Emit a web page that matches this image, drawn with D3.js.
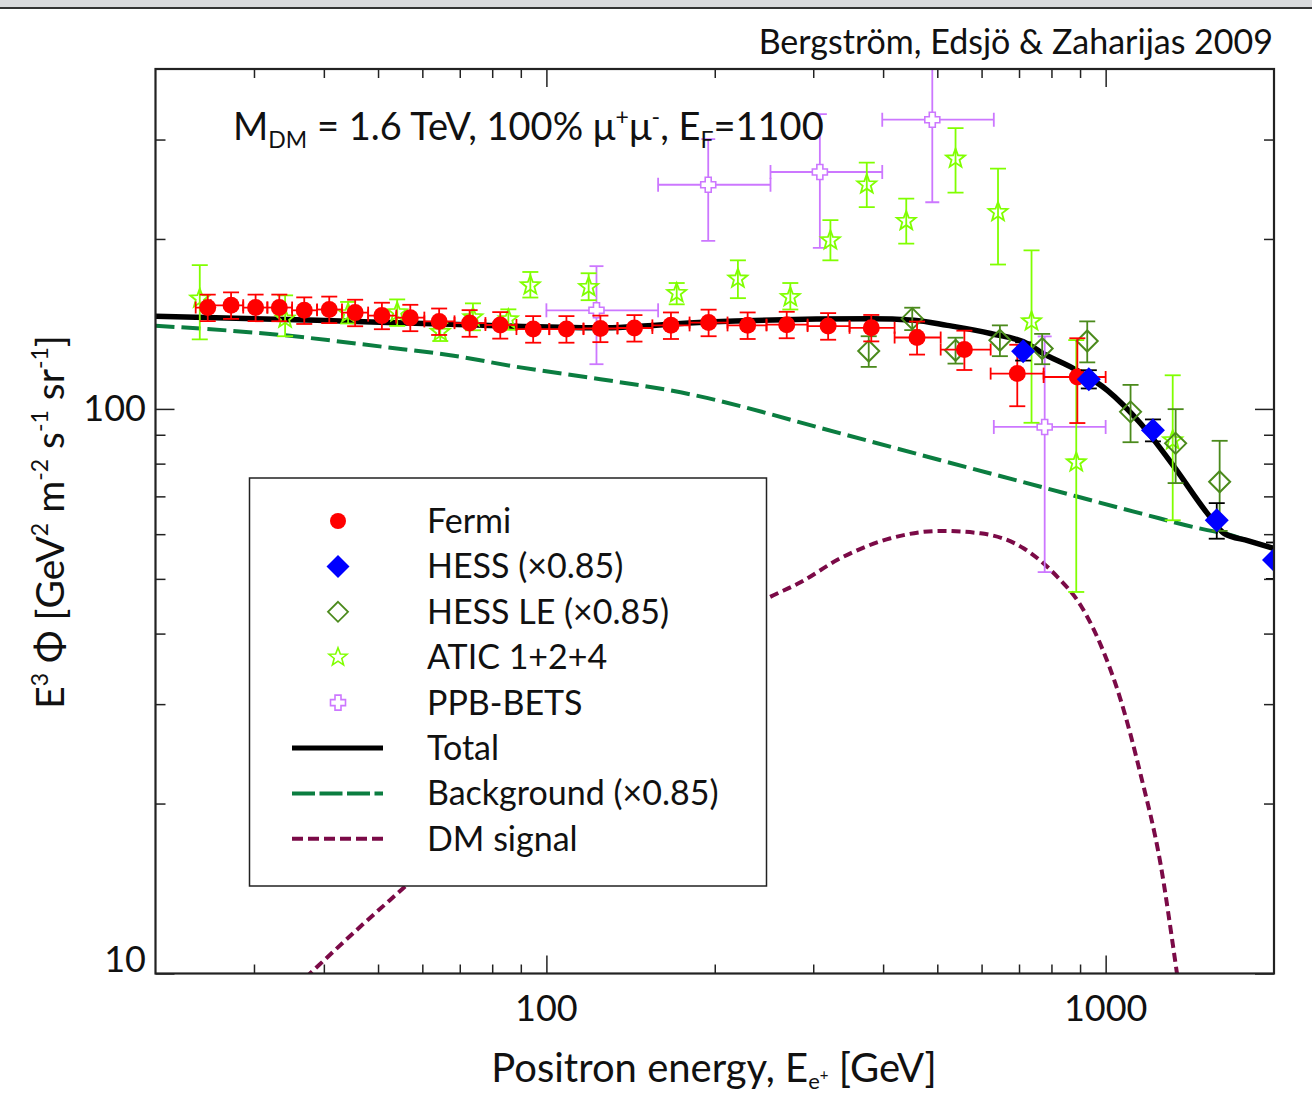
<!DOCTYPE html>
<html>
<head>
<meta charset="utf-8">
<script src="https://cdn.jsdelivr.net/npm/d3@7"></script>
<style>
  body { margin: 0; background: #fff; }
  svg text { font-family: Lato, "Open Sans", sans-serif; fill: #111; }
</style>
</head>
<body>
<div id="chart"></div>
<script>
// ---- data ----
const fermiE = [24.8, 27.3, 30.2, 33.3, 36.9, 40.9, 45.5, 50.8, 57.1, 64.3, 72.9, 82.7, 94.7, 108.6, 124.9, 143.7, 167, 195, 229, 269, 319, 381, 460, 559, 695, 890];
const fermiV = [151.2, 152.6, 151.2, 151.2, 149.5, 150, 148.1, 146.3, 145.1, 142.9, 141.9, 140.8, 138.5, 138.5, 138.8, 139.1, 140.6, 142.2, 140.6, 141, 140.2, 139.2, 133.8, 127.4, 115.5, 113.9];
const fermiErr = [8.2, 8.2, 8.2, 8.2, 8.1, 8.1, 8.0, 7.9, 7.8, 7.7, 7.7, 7.6, 7.5, 7.5, 7.5, 7.5, 7.6, 7.7, 7.6, 7.6, 7.6, 7.5, 9.0, 10.2, 14.4, 19.5];
const fermiEdges = [23.6, 25.1, 28.7, 31.7, 35.1, 38.9, 43.1, 48.0, 53.9, 60.5, 68.5, 77.8, 88.4, 101.2, 116.5, 134.0, 154.7, 180.3, 210.8, 247.5, 293.1, 348.4, 419.4, 507, 622.8, 774.6, 1000];

const hessE = [712, 933, 1215, 1580, 2000];
const hessV = [126.5, 112.9, 91.7, 63.5, 54.0];
const hessErr = [4.7, 4.2, 4.1, 4.6, 4.0];

const hessLeE = [377, 451, 539, 647, 770, 927, 1108, 1334, 1599];
const hessLeV = [126.6, 144.5, 127.0, 132.3, 127.9, 131.9, 98.8, 86.9, 74.3];
const hessLeErr = [7.9, 6.6, 6.7, 8.3, 7.9, 11, 11.5, 13, 13.5];

const aticE = [24.0, 34.1, 44.2, 54.1, 64.6, 73.9, 85.5, 93.6, 119, 171, 220, 273, 322, 374, 440, 539, 642, 737, 886, 1318];
const aticV = [156.8, 144.5, 147.7, 148.3, 136.9, 145.3, 144.1, 165.5, 164.4, 160.4, 170.1, 157.8, 198.9, 249.8, 215.2, 277.5, 223.2, 142.9, 80.4, 88.0];
const aticErrMinus = [24, 10, 6, 8, 5, 7.5, 6, 8, 8.6, 7.2, 13, 7.8, 15.6, 22, 19, 36, 43, 48.4, 33, 24.5];
const aticErrPlus = [23, 14.4, 7, 8, 5, 8.5, 6, 9.3, 9.5, 6.7, 13.2, 9.3, 17, 23.2, 20.5, 36.8, 43.2, 48, 52, 26.7];

const ppbE = [122.9, 194.7, 308.3, 489.8, 778];
const ppbV = [149.5, 249.5, 262.8, 325.3, 92.9];
const ppbErr = [29.5, 51, 70, 93, 41.5];
const ppbLo = [100, 158.4, 251.6, 398.6, 631];
const ppbHi = [158.4, 251.6, 398.6, 631, 1000];

const totalE = [20, 38.9, 67.3, 124.9, 193.9, 379.8, 454.1, 521, 622.6, 724.4, 765.2, 876.5, 1007, 1155, 1325, 1520, 1628, 1800, 2000];
const totalV = [145.9, 143.6, 141.2, 139.2, 142.6, 144.4, 143.6, 140.6, 136.0, 130.5, 126.1, 117.9, 107.9, 94.2, 79.0, 65.3, 60.2, 58.4, 56.6];

const bgE = [20, 33.8, 51.1, 67.3, 88.6, 124.9, 173.7, 335.7, 506.9, 765.2, 1155, 1520, 1628, 1800, 2000];
const bgV = [140.4, 135.1, 128.8, 124.5, 118.7, 112.9, 107.0, 90.5, 81.1, 72.8, 65.3, 61.0, 60.2, 58.4, 56.6];

const dmE = [37.1, 46.5, 57.1, 82.7, 135.6, 248.5, 284.7, 335.7, 412.5, 506.9, 597.4, 714.3, 819.8, 902, 979.7, 1064, 1155, 1254, 1340, 1362];
const dmV = [9.83, 12.11, 14.53, 20.3, 30.5, 46.2, 49.3, 54.4, 59.0, 60.8, 60.2, 56.6, 50.4, 44.9, 38.2, 30.5, 22.5, 15.6, 10.07, 9.0];

const xMajor = [100, 1000];
const xMinor = [30, 40, 50, 60, 70, 80, 90, 200, 300, 400, 500, 600, 700, 800, 900];
const yMajor = [10, 100];
const yMinor = [20, 30, 40, 50, 60, 70, 80, 90, 200, 300];

const legendItems = ["Fermi", "HESS (×0.85)", "HESS LE (×0.85)", "ATIC 1+2+4", "PPB-BETS", "Total", "Background (×0.85)", "DM signal"];

// ---- setup ----
const W = 1312, H = 1106;
const svg = d3.select("#chart").append("svg").attr("width", W).attr("height", H);

// strip at very top of the screenshot
svg.append("rect").attr("x", 0).attr("y", 0).attr("width", W).attr("height", 7).attr("fill", "#d9dadc");
svg.append("line").attr("x1", 0).attr("x2", W).attr("y1", 8).attr("y2", 8).attr("stroke", "#333").attr("stroke-width", 2);

const x = d3.scaleLog().domain([20, 2000]).range([155.5, 1274]);
const y = d3.scaleLog().domain([10, 400]).range([973.5, 69]);
const [x0, x1] = x.range(), [y0, y1] = y.range();

svg.append("clipPath").attr("id", "plot").append("rect")
  .attr("x", x0).attr("y", y1).attr("width", x1 - x0).attr("height", y0 - y1);

const RED = "#ff0000", BLUE = "#0000ff", OLIVE = "#4b8a1c", LIME = "#80ff00", VIOLET = "#cc77ff";
const BGC = "#0b7d40", DMC = "#7b0a47";

const g = svg.append("g").attr("clip-path", "url(#plot)");

// ---- curves ----
const line = d3.line().x(d => x(d[0])).y(d => y(d[1])).curve(d3.curveMonotoneX);
g.append("path").datum(dmE.map((e, i) => [e, dmV[i]]))
  .attr("d", line).attr("fill", "none").attr("stroke", DMC).attr("stroke-width", 4).attr("stroke-dasharray", "9,5");
g.append("path").datum(bgE.map((e, i) => [e, bgV[i]]))
  .attr("d", line).attr("fill", "none").attr("stroke", BGC).attr("stroke-width", 4).attr("stroke-dasharray", "19,7");
g.append("path").datum(totalE.map((e, i) => [e, totalV[i]]))
  .attr("d", line).attr("fill", "none").attr("stroke", "#000").attr("stroke-width", 5.5);

// ---- helpers ----
function vErr(sel, xs, lo, hi, color, cap) {
  xs.forEach((e, i) => {
    const px = x(e), a = y(lo[i]), b = y(hi[i]);
    sel.append("line").attr("x1", px).attr("x2", px).attr("y1", a).attr("y2", b);
    sel.append("line").attr("x1", px - cap).attr("x2", px + cap).attr("y1", a).attr("y2", a);
    sel.append("line").attr("x1", px - cap).attr("x2", px + cap).attr("y1", b).attr("y2", b);
  });
  sel.attr("stroke", color).attr("stroke-width", 1.8);
}
function hErr(sel, vs, lo, hi, color, cap) {
  vs.forEach((v, i) => {
    const py = y(v), a = x(lo[i]), b = x(hi[i]);
    sel.append("line").attr("x1", a).attr("x2", b).attr("y1", py).attr("y2", py);
    sel.append("line").attr("x1", a).attr("x2", a).attr("y1", py - cap).attr("y2", py + cap);
    sel.append("line").attr("x1", b).attr("x2", b).attr("y1", py - cap).attr("y2", py + cap);
  });
  sel.attr("stroke", color).attr("stroke-width", 1.8);
}
const diamond = r => `M0,${-r}L${r},0L0,${r}L${-r},0Z`;
const cross = (a, b) => `M${-a},${-b}L${a},${-b}L${a},${-a}L${b},${-a}L${b},${a}L${a},${a}L${a},${b}L${-a},${b}L${-a},${a}L${-b},${a}L${-b},${-a}L${-a},${-a}Z`;
function star(R, r) {
  let p = "";
  for (let k = 0; k < 10; k++) {
    const ang = -Math.PI / 2 + k * Math.PI / 5, rad = k % 2 ? r : R;
    p += (k ? "L" : "M") + (rad * Math.cos(ang)).toFixed(2) + "," + (rad * Math.sin(ang)).toFixed(2);
  }
  return p + "Z";
}

// ---- PPB-BETS ----
const ppbG = g.append("g");
vErr(ppbG.append("g"), ppbE, ppbV.map((v, i) => v - ppbErr[i]), ppbV.map((v, i) => v + ppbErr[i]), VIOLET, 7);
hErr(ppbG.append("g"), ppbV, ppbLo, ppbHi, VIOLET, 7);
ppbG.selectAll("path").data(ppbE).join("path")
  .attr("transform", (e, i) => `translate(${x(e)},${y(ppbV[i])})`)
  .attr("d", cross(3, 7.5)).attr("fill", "#fff").attr("stroke", VIOLET).attr("stroke-width", 1.6);

// ---- ATIC ----
const aticG = g.append("g");
vErr(aticG.append("g"), aticE, aticV.map((v, i) => v - aticErrMinus[i]), aticV.map((v, i) => v + aticErrPlus[i]), LIME, 8);
aticG.selectAll("path").data(aticE).join("path")
  .attr("transform", (e, i) => `translate(${x(e)},${y(aticV[i])})`)
  .attr("d", star(10, 4.2)).attr("fill", "none").attr("stroke", LIME).attr("stroke-width", 1.8);

// ---- HESS LE ----
const leG = g.append("g");
vErr(leG.append("g"), hessLeE, hessLeV.map((v, i) => v - hessLeErr[i]), hessLeV.map((v, i) => v + hessLeErr[i]), OLIVE, 8);
leG.selectAll("path").data(hessLeE).join("path")
  .attr("transform", (e, i) => `translate(${x(e)},${y(hessLeV[i])})`)
  .attr("d", diamond(10.5)).attr("fill", "none").attr("stroke", OLIVE).attr("stroke-width", 2);

// ---- Fermi ----
const fG = g.append("g");
vErr(fG.append("g"), fermiE, fermiV.map((v, i) => v - fermiErr[i]), fermiV.map((v, i) => v + fermiErr[i]), RED, 8);
hErr(fG.append("g"), fermiV, fermiEdges.slice(0, -1), fermiEdges.slice(1), RED, 6);
fG.selectAll("circle").data(fermiE).join("circle")
  .attr("cx", e => x(e)).attr("cy", (e, i) => y(fermiV[i])).attr("r", 8.5).attr("fill", RED);

// ---- HESS ----
const hG = g.append("g");
vErr(hG.append("g"), hessE, hessV.map((v, i) => v - hessErr[i]), hessV.map((v, i) => v + hessErr[i]), "#000", 8);
hG.selectAll("path").data(hessE).join("path")
  .attr("transform", (e, i) => `translate(${x(e)},${y(hessV[i])})`)
  .attr("d", diamond(12)).attr("fill", BLUE);

// ---- axes (ticks inward on all four sides) ----
function ax(axisFn, scale, vals, size, tr) {
  const a = svg.append("g").attr("transform", tr)
    .call(axisFn(scale).tickValues(vals).tickSize(size).tickFormat(""));
  a.select(".domain").remove();
  a.selectAll("line").attr("stroke", "#222").attr("stroke-width", 1.5);
  return a;
}
ax(d3.axisBottom, x, xMinor, -9, `translate(0,${y0})`);
ax(d3.axisBottom, x, xMajor, -18, `translate(0,${y0})`);
ax(d3.axisTop, x, xMinor, -9, `translate(0,${y1})`);
ax(d3.axisTop, x, xMajor, -18, `translate(0,${y1})`);
ax(d3.axisLeft, y, yMinor, -10, `translate(${x0},0)`);
ax(d3.axisLeft, y, yMajor, -19, `translate(${x0},0)`);
ax(d3.axisRight, y, yMinor, -10, `translate(${x1},0)`);
ax(d3.axisRight, y, yMajor, -19, `translate(${x1},0)`);

svg.append("rect").attr("x", x0).attr("y", y1).attr("width", x1 - x0).attr("height", y0 - y1)
  .attr("fill", "none").attr("stroke", "#222").attr("stroke-width", 2.2);

// tick labels
svg.append("g").selectAll("text").data(xMajor).join("text")
  .attr("x", d => x(d)).attr("y", 1021).attr("text-anchor", "middle")
  .style("font-size", "36px").text(d => d);
svg.append("g").selectAll("text").data(yMajor).join("text")
  .attr("x", 146).attr("y", d => d === 10 ? 972 : y(d) + 12.5).attr("text-anchor", "end")
  .style("font-size", "36px").text(d => d);

// ---- titles ----
svg.append("text").attr("x", 1273).attr("y", 54).attr("text-anchor", "end")
  .style("font-size", "34px").text("Bergström, Edsjö & Zaharijas 2009");

const ann = svg.append("text").attr("x", 233).attr("y", 140).style("font-size", "38px");
ann.append("tspan").text("M");
ann.append("tspan").attr("dy", 8).style("font-size", "23px").text("DM");
ann.append("tspan").attr("dy", -8).text(" = 1.6 TeV, 100% μ");
ann.append("tspan").attr("dy", -15).style("font-size", "23px").text("+");
ann.append("tspan").attr("dy", 15).text("μ");
ann.append("tspan").attr("dy", -15).style("font-size", "23px").text("-");
ann.append("tspan").attr("dy", 15).text(", E");
ann.append("tspan").attr("dy", 8).style("font-size", "23px").text("F");
ann.append("tspan").attr("dy", -8).text("=1100");

const xl = svg.append("text").attr("x", 714).attr("y", 1082).attr("text-anchor", "middle").style("font-size", "40px");
xl.append("tspan").text("Positron energy, E");
xl.append("tspan").attr("dy", 7).style("font-size", "22px").text("e");
xl.append("tspan").attr("dy", -9).style("font-size", "15px").text("+");
xl.append("tspan").attr("dy", 2).text(" [GeV]");

const yl = svg.append("text").attr("transform", "translate(64,522) rotate(-90)")
  .attr("text-anchor", "middle").style("font-size", "39px");
[["E", 0], ["3", 1], [" Φ [GeV", 0], ["2", 1], [" m", 0], ["-2", 1], [" s", 0], ["-1", 1], [" sr", 0], ["-1", 1], ["]", 0]]
  .forEach(([t, sup], i, arr) => {
    const prevSup = i > 0 && arr[i - 1][1];
    const ts = yl.append("tspan").text(t);
    if (sup) ts.attr("dy", -16).style("font-size", "23px");
    else if (prevSup) ts.attr("dy", 16);
  });

// ---- legend ----
const lg = svg.append("g");
lg.append("rect").attr("x", 249.5).attr("y", 478).attr("width", 517).attr("height", 408)
  .attr("fill", "#fff").attr("stroke", "#222").attr("stroke-width", 1.5);
const rowY = i => 521 + i * 45.4;
legendItems.forEach((t, i) => {
  lg.append("text").attr("x", 427).attr("y", rowY(i) + 12).style("font-size", "34px").text(t);
});
const sx = 338;
lg.append("circle").attr("cx", sx).attr("cy", rowY(0)).attr("r", 8).attr("fill", RED);
lg.append("path").attr("transform", `translate(${sx},${rowY(1)})`).attr("d", diamond(11.5)).attr("fill", BLUE);
lg.append("path").attr("transform", `translate(${sx},${rowY(2)})`).attr("d", diamond(10)).attr("fill", "none").attr("stroke", OLIVE).attr("stroke-width", 1.8);
lg.append("path").attr("transform", `translate(${sx},${rowY(3)})`).attr("d", star(9.5, 4)).attr("fill", "none").attr("stroke", LIME).attr("stroke-width", 1.6);
lg.append("path").attr("transform", `translate(${sx},${rowY(4)})`).attr("d", cross(3, 7.5)).attr("fill", "none").attr("stroke", VIOLET).attr("stroke-width", 1.6);
lg.append("line").attr("x1", 292).attr("x2", 383).attr("y1", rowY(5)).attr("y2", rowY(5)).attr("stroke", "#000").attr("stroke-width", 5);
lg.append("line").attr("x1", 292).attr("x2", 383).attr("y1", rowY(6)).attr("y2", rowY(6)).attr("stroke", BGC).attr("stroke-width", 4).attr("stroke-dasharray", "23,4.5");
lg.append("line").attr("x1", 292).attr("x2", 383).attr("y1", rowY(7)).attr("y2", rowY(7)).attr("stroke", DMC).attr("stroke-width", 4).attr("stroke-dasharray", "11,5");
</script>
</body>
</html>
